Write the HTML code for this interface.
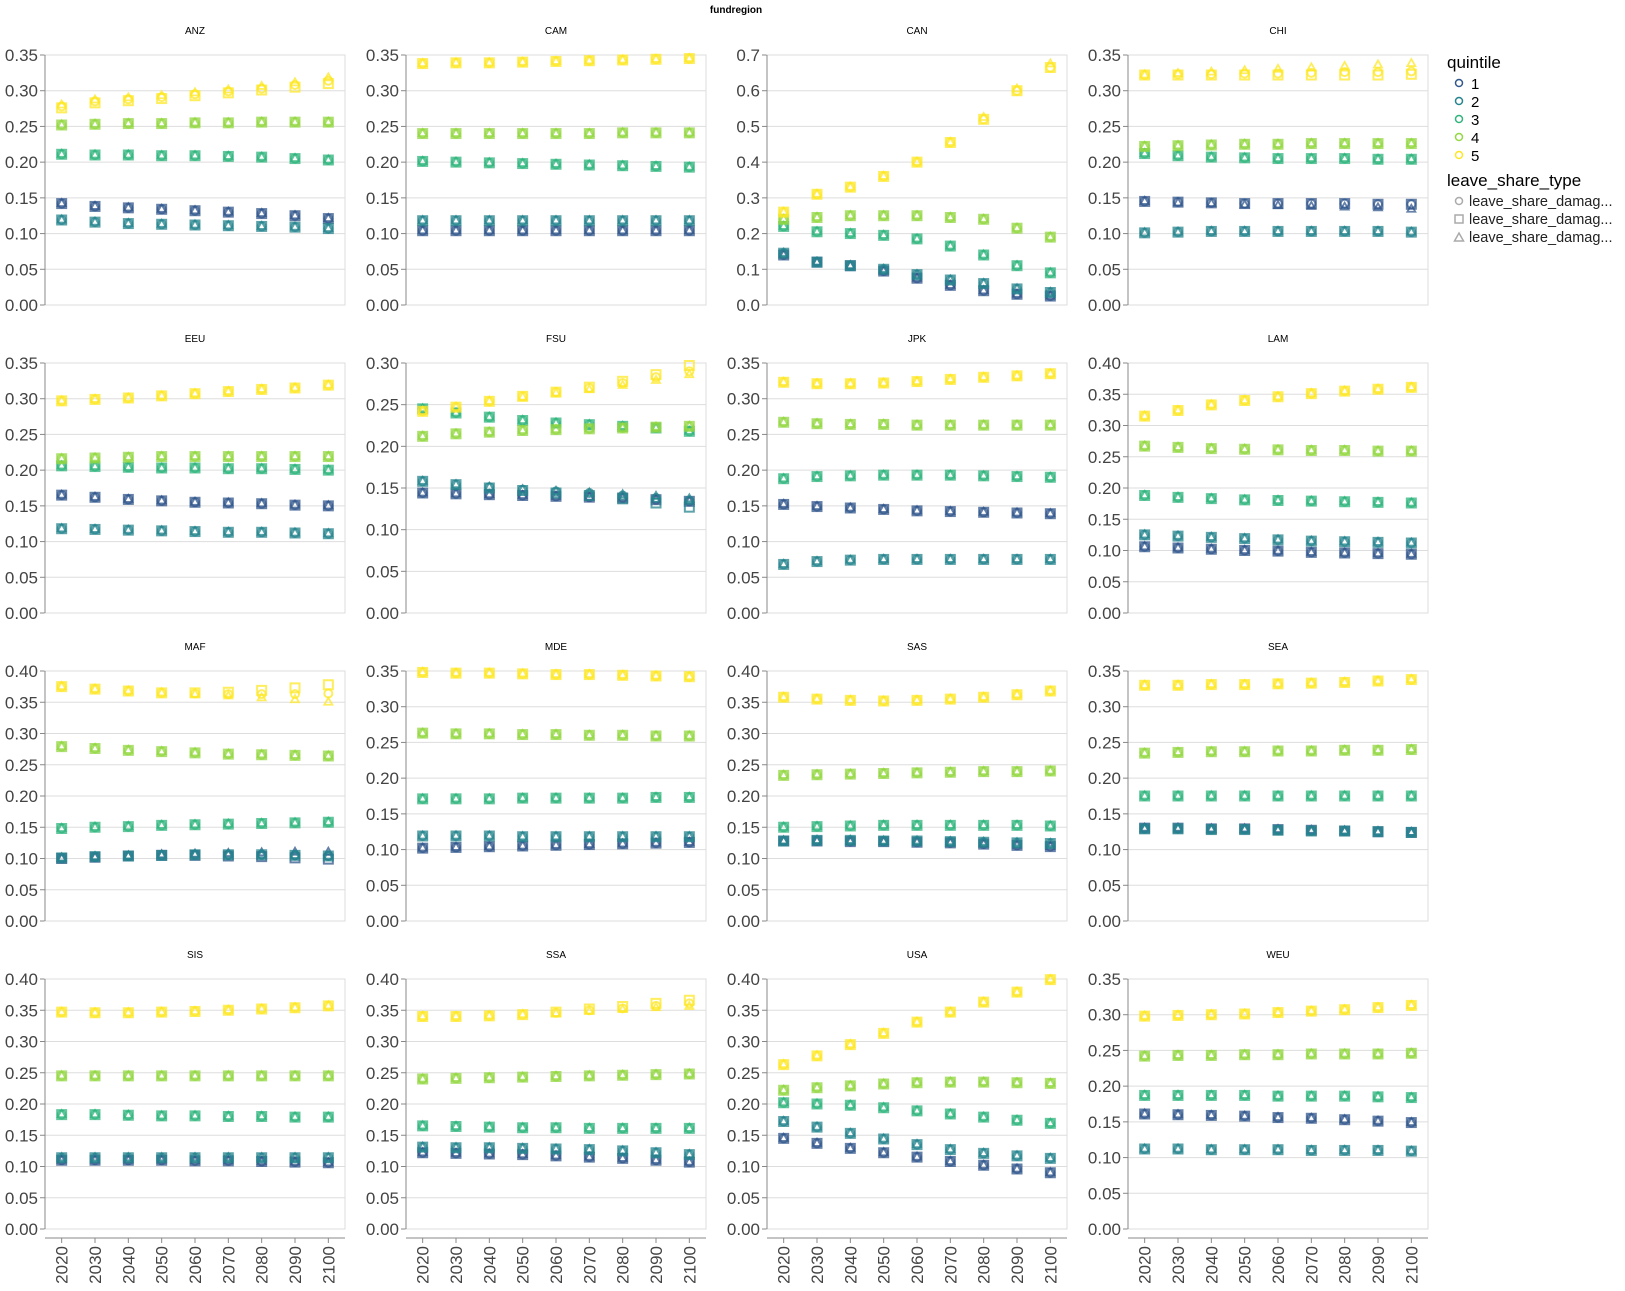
<!DOCTYPE html>
<html><head><meta charset="utf-8">
<style>
html,body{margin:0;padding:0;background:#fff;}
svg text{font-family:"Liberation Sans","DejaVu Sans",sans-serif;}
</style></head>
<body>
<svg id="chart" width="1625" height="1286" xmlns="http://www.w3.org/2000/svg">
<text x="736" y="13" font-size="10" font-weight="bold" text-anchor="middle" fill="#000">fundregion</text>
<g id="panels"></g>
<g id="legend">
  <text x="1447" y="68" font-size="17" fill="#000">quintile</text>
  <g><circle cx="1459" cy="83" r="3.5" fill="none" stroke="#31578c" stroke-width="1.5"/><text x="1471" y="89" font-size="15" fill="#000">1</text></g>
  <g><circle cx="1459" cy="101" r="3.5" fill="none" stroke="#25848e" stroke-width="1.5"/><text x="1471" y="107" font-size="15" fill="#000">2</text></g>
  <g><circle cx="1459" cy="119" r="3.5" fill="none" stroke="#2fb47c" stroke-width="1.5"/><text x="1471" y="125" font-size="15" fill="#000">3</text></g>
  <g><circle cx="1459" cy="137" r="3.5" fill="none" stroke="#93d741" stroke-width="1.5"/><text x="1471" y="143" font-size="15" fill="#000">4</text></g>
  <g><circle cx="1459" cy="155" r="3.5" fill="none" stroke="#fde725" stroke-width="1.5"/><text x="1471" y="161" font-size="15" fill="#000">5</text></g>
  <text x="1447" y="186" font-size="17" fill="#000">leave_share_type</text>
  <g><circle cx="1459" cy="201" r="3.5" fill="none" stroke="#aaa" stroke-width="1.5"/><text x="1469" y="206" font-size="14.5" fill="#222">leave_share_damag...</text></g>
  <g><rect x="1455" y="215" width="8" height="8" fill="none" stroke="#aaa" stroke-width="1.5"/><text x="1469" y="224" font-size="14.5" fill="#222">leave_share_damag...</text></g>
  <g><path d="M1459,233 L1463.5,241 L1454.5,241 Z" fill="none" stroke="#aaa" stroke-width="1.5"/><text x="1469" y="242" font-size="14.5" fill="#222">leave_share_damag...</text></g>
</g>
</svg>
<script>
const years = [2020,2030,2040,2050,2060,2070,2080,2090,2100];
const regions = ["ANZ","CAM","CAN","CHI","EEU","FSU","JPK","LAM","MAF","MDE","SAS","SEA","SIS","SSA","USA","WEU"];
const yMaxes = [0.35,0.35,0.7,0.35,0.35,0.30,0.35,0.40,0.40,0.35,0.40,0.35,0.40,0.40,0.40,0.35];
const quintileColors = ["#31578c","#25848e","#2fb47c","#93d741","#fde725"];
const ANZ = [[.142,.138,.136,.134,.132,.130,.128,.125,.121],[.119,.116,.114,.113,.112,.111,.110,.109,.107],[.211,.210,.210,.209,.209,.208,.207,.205,.203],[.252,.253,.254,.254,.255,.255,.256,.256,.256],[.278,.285,.288,.291,.295,.299,.303,.308,.314]];
const CAM = [[.104,.104,.104,.104,.104,.104,.104,.104,.104],[.118,.118,.118,.118,.118,.118,.118,.118,.118],[.201,.200,.199,.198,.197,.196,.195,.194,.193],[.240,.240,.240,.240,.240,.240,.241,.241,.241],[.338,.339,.339,.340,.341,.342,.343,.344,.345]];
const CAN = [[.14,.12,.11,.095,.075,.055,.04,.03,.025],[.145,.12,.11,.10,.085,.07,.06,.045,.035],[.22,.205,.20,.195,.185,.165,.14,.11,.09],[.24,.245,.25,.25,.25,.245,.24,.215,.19],[.26,.31,.33,.36,.40,.455,.52,.60,.665]];
const CHI = [[.145,.144,.143,.142,.142,.142,.142,.141,.141],[.101,.102,.103,.103,.103,.103,.103,.103,.102],[.212,.209,.207,.206,.205,.205,.205,.204,.204],[.222,.223,.224,.225,.225,.226,.226,.226,.226],[.322,.323,.323,.324,.324,.325,.326,.326,.327]];
const EEU = [[.165,.162,.159,.157,.155,.154,.153,.151,.150],[.118,.117,.116,.115,.114,.113,.113,.112,.111],[.206,.205,.204,.203,.203,.202,.202,.201,.200],[.216,.217,.218,.219,.219,.219,.219,.219,.219],[.297,.299,.301,.304,.307,.310,.313,.315,.319]];
const FSU = [[.144,.143,.142,.141,.140,.139,.138,.136,.134],[.158,.154,.151,.148,.146,.144,.141,.138,.135],[.245,.240,.235,.231,.228,.226,.224,.222,.218],[.212,.215,.217,.219,.220,.221,.222,.223,.224],[.242,.247,.254,.260,.265,.270,.276,.283,.290]];
const JPK = [[.152,.149,.147,.145,.143,.142,.141,.140,.139],[.068,.072,.074,.075,.075,.075,.075,.075,.075],[.188,.191,.192,.193,.193,.193,.192,.191,.190],[.267,.265,.264,.264,.263,.263,.263,.263,.263],[.323,.321,.321,.322,.324,.327,.330,.332,.335]];
const LAM = [[.106,.104,.102,.100,.099,.097,.096,.095,.094],[.125,.123,.121,.119,.117,.115,.114,.113,.112],[.188,.185,.183,.181,.180,.179,.178,.177,.176],[.267,.265,.263,.262,.261,.260,.260,.259,.259],[.315,.324,.333,.340,.346,.351,.355,.358,.361]];
const MAF = [[.100,.102,.104,.105,.106,.106,.106,.105,.104],[.101,.103,.104,.105,.106,.106,.106,.105,.104],[.148,.150,.151,.153,.154,.155,.156,.157,.158],[.279,.276,.273,.271,.269,.267,.266,.265,.264],[.375,.371,.368,.365,.364,.363,.363,.363,.364]];
const MDE = [[.102,.103,.104,.105,.106,.107,.108,.109,.110],[.119,.119,.119,.118,.118,.118,.118,.118,.118],[.171,.171,.171,.172,.172,.172,.172,.173,.173],[.263,.262,.262,.261,.261,.260,.260,.259,.259],[.348,.347,.347,.346,.345,.345,.344,.343,.342]];
const SAS = [[.128,.128,.127,.127,.126,.125,.123,.121,.119],[.128,.129,.129,.128,.128,.127,.126,.125,.124],[.150,.151,.152,.153,.153,.153,.153,.153,.152],[.233,.234,.235,.236,.237,.238,.239,.239,.240],[.358,.355,.353,.352,.353,.355,.358,.362,.368]];
const SEA = [[.130,.130,.129,.129,.128,.127,.126,.125,.124],[.129,.129,.128,.128,.127,.126,.126,.125,.124],[.175,.175,.175,.175,.175,.175,.175,.175,.175],[.235,.236,.237,.237,.238,.238,.239,.239,.240],[.330,.330,.331,.331,.332,.333,.334,.336,.338]];
const SIS = [[.110,.110,.110,.110,.109,.109,.108,.107,.106],[.114,.114,.114,.114,.114,.114,.114,.114,.114],[.183,.183,.182,.181,.181,.180,.180,.179,.179],[.245,.245,.245,.245,.245,.245,.245,.245,.245],[.347,.346,.346,.347,.348,.350,.352,.354,.357]];
const SSA = [[.122,.121,.120,.119,.117,.115,.113,.110,.107],[.131,.130,.130,.129,.128,.127,.125,.122,.119],[.165,.164,.163,.162,.162,.161,.161,.161,.161],[.240,.241,.242,.243,.244,.245,.246,.247,.248],[.340,.340,.341,.343,.346,.350,.353,.357,.361]];
const USA = [[.145,.137,.129,.122,.115,.108,.102,.096,.090],[.172,.163,.153,.144,.135,.127,.121,.117,.113],[.202,.200,.198,.194,.189,.184,.179,.174,.169],[.222,.226,.229,.232,.234,.235,.235,.234,.233],[.263,.277,.295,.313,.331,.347,.363,.379,.399]];
const WEU = [[.161,.160,.159,.158,.156,.155,.153,.151,.149],[.112,.112,.111,.111,.111,.110,.110,.110,.109],[.187,.187,.187,.187,.186,.186,.186,.185,.184],[.242,.243,.243,.244,.244,.245,.245,.245,.246],[.298,.299,.300,.301,.303,.305,.307,.310,.313]];
const CHI_q5_alt = [[.322,.322,.322,.322,.322,.322,.322,.322,.323],[.322,.324,.326,.328,.330,.332,.334,.336,.338]];
const CHI_q1_alt = [[.145,.144,.143,.142,.142,.142,.142,.141,.141],[.145,.143,.142,.140,.139,.138,.137,.136,.134]];
const FSU_q5_alt = [[.242,.247,.254,.260,.265,.271,.278,.286,.297],[.242,.247,.254,.259,.264,.268,.273,.279,.286]];
const FSU_q2_alt = [[.158,.154,.150,.147,.144,.141,.137,.132,.127],[.158,.154,.151,.148,.146,.144,.142,.140,.137]];
const MAF_q5_alt = [[.375,.371,.368,.365,.365,.366,.369,.373,.378],[.375,.371,.368,.365,.363,.360,.357,.354,.350]];
const MAF_q1_alt = [[.100,.102,.104,.105,.105,.104,.103,.101,.099],[.100,.102,.104,.106,.107,.108,.109,.110,.110]];
const SSA_q5_alt = [[.340,.340,.341,.343,.347,.352,.356,.361,.366],[.340,.340,.341,.343,.345,.348,.351,.354,.356]];
const CAN_q5_alt = [[.26,.31,.33,.36,.40,.455,.52,.60,.665],[.26,.31,.33,.36,.40,.455,.525,.605,.675]];
const ANZ_q5_alt = [[.276,.283,.286,.289,.293,.297,.301,.305,.310],[.280,.287,.290,.293,.297,.301,.306,.311,.318]];
const regionValues = {ANZ,CAM,CAN,CHI,EEU,FSU,JPK,LAM,MAF,MDE,SAS,SEA,SIS,SSA,USA,WEU};
const altValues = {"CHI-4":CHI_q5_alt,"CHI-0":CHI_q1_alt,"FSU-4":FSU_q5_alt,"FSU-1":FSU_q2_alt,"MAF-4":MAF_q5_alt,"MAF-0":MAF_q1_alt,"SSA-4":SSA_q5_alt,"CAN-4":CAN_q5_alt,"ANZ-4":ANZ_q5_alt};

const NS = "http://www.w3.org/2000/svg";
const root = document.getElementById("panels");
const colLeft = [45,406,767,1128], rowTop = [55,363,671,979], W = 300, H = 250;
function mk(tag, attrs, parent){ const e=document.createElementNS(NS,tag); for(const k in attrs) e.setAttribute(k,attrs[k]); parent.appendChild(e); return e; }

regions.forEach((reg, i) => {
  const x0 = colLeft[i%4], y0 = rowTop[Math.floor(i/4)];
  const yMax = yMaxes[i];
  const step = yMax > 0.5 ? 0.1 : 0.05;
  const xScale = j => x0 + W/years.length*(j+0.5);
  const yScale = v => y0 + H - v/yMax*H;
  const g = mk("g", {}, root);
  
  
  const t = mk("text", {x:x0+W/2, y:y0-21, "font-size":10, "text-anchor":"middle", fill:"#000"}, g);
  t.textContent = reg;
  
  
  const nT = Math.round(yMax/step);
  for (let k=0;k<=nT;k++){
    const v = k*step, y = yScale(v);
    mk("line",{x1:x0,x2:x0+W,y1:y,y2:y,stroke:"#ddd","stroke-width":1},g);
    mk("line",{x1:x0-5,x2:x0,y1:y,y2:y,stroke:"#888","stroke-width":1},g);
    const lb = mk("text",{x:x0-7,y:y+6,"font-size":17,"text-anchor":"end",fill:"#444"},g);
    lb.textContent = step===0.1 ? v.toFixed(1) : v.toFixed(2);
    
    
  }
  mk("rect",{x:x0,y:y0,width:W,height:H,fill:"none",stroke:"#ddd","stroke-width":1},g);
  mk("line",{x1:x0,x2:x0,y1:y0,y2:y0+H,stroke:"#888","stroke-width":1},g);
  if (Math.floor(i/4)===3){
    const ay = y0+H+9;
    mk("line",{x1:x0,x2:x0+W,y1:ay,y2:ay,stroke:"#888","stroke-width":1},g);
    years.forEach((yr,j)=>{
      const x = xScale(j);
      mk("line",{x1:x,x2:x,y1:ay,y2:ay+5,stroke:"#888","stroke-width":1},g);
      const lb = mk("text",{x:0,y:0,"font-size":17,"text-anchor":"end",fill:"#444",transform:`translate(${x+6},${ay+8}) rotate(-90)`},g);
      lb.textContent = yr;
      
      
    });
  }
  const vals = regionValues[reg];
  vals.forEach((series, q) => {
    const alt = altValues[reg+"-"+q];
    const col = quintileColors[q];
    years.forEach((yr, j) => {
      const x = xScale(j);
      const vC = series[j], vS = alt ? alt[0][j] : series[j], vT = alt ? alt[1][j] : series[j];
      const c = mk("circle",{cx:x,cy:yScale(vC),r:4,fill:"none",stroke:col,"stroke-width":2,"stroke-opacity":0.75},g);
      
      
      const ys = yScale(vS);
      const s = mk("rect",{x:x-4.5,y:ys-4.5,width:9,height:9,fill:"none",stroke:col,"stroke-width":2,"stroke-opacity":0.75},g);
      
      
      const yt = yScale(vT);
      const tr = mk("path",{d:`M${x},${yt-4.5} L${x+4},${yt+2.5} L${x-4},${yt+2.5} Z`,fill:"none",stroke:col,"stroke-width":1.8,"stroke-opacity":0.75},g);
      
      
    });
  });
});
</script>
</body></html>
